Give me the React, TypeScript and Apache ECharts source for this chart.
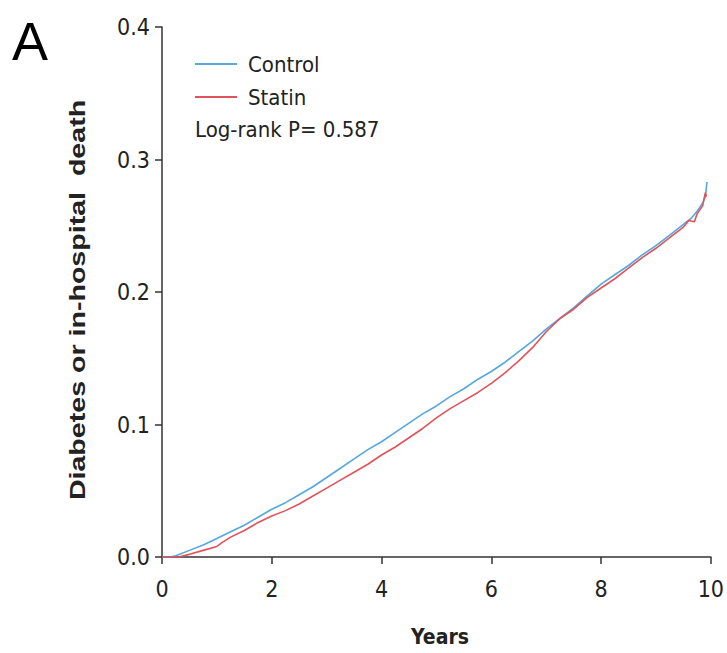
import React, { useEffect, useRef } from "react";
import * as echarts from "echarts";

const xTicks = [0, 2, 4, 6, 8, 10];
const yTicks = [0, 0.1, 0.2, 0.3, 0.4];

const controlYears = [0, 0.15, 0.25, 0.5, 0.75, 1.0, 1.25, 1.5, 1.75, 2.0, 2.25, 2.5, 2.75, 3.0, 3.25, 3.5, 3.75, 4.0, 4.25, 4.5, 4.75, 5.0, 5.25, 5.5, 5.75, 6.0, 6.25, 6.5, 6.75, 7.0, 7.25, 7.5, 7.75, 8.0, 8.25, 8.5, 8.75, 9.0, 9.25, 9.5, 9.65, 9.75, 9.85, 9.9, 9.93];
const controlValues = [0, 0, 0.001, 0.005, 0.009, 0.014, 0.019, 0.024, 0.030, 0.036, 0.041, 0.047, 0.053, 0.060, 0.067, 0.074, 0.081, 0.087, 0.094, 0.101, 0.108, 0.114, 0.121, 0.127, 0.134, 0.140, 0.147, 0.155, 0.163, 0.172, 0.180, 0.188, 0.197, 0.206, 0.213, 0.220, 0.228, 0.235, 0.243, 0.251, 0.256, 0.261, 0.267, 0.272, 0.283];

const statinYears = [0, 0.3, 0.5, 0.75, 1.0, 1.1, 1.25, 1.5, 1.75, 2.0, 2.25, 2.5, 2.75, 3.0, 3.25, 3.5, 3.75, 4.0, 4.25, 4.5, 4.75, 5.0, 5.25, 5.5, 5.75, 6.0, 6.25, 6.5, 6.75, 7.0, 7.25, 7.5, 7.75, 8.0, 8.25, 8.5, 8.75, 9.0, 9.25, 9.5, 9.6, 9.7, 9.75, 9.8, 9.85, 9.9, 9.92];
const statinValues = [0, 0, 0.002, 0.005, 0.008, 0.011, 0.015, 0.020, 0.026, 0.031, 0.035, 0.040, 0.046, 0.052, 0.058, 0.064, 0.070, 0.077, 0.083, 0.090, 0.097, 0.105, 0.112, 0.118, 0.124, 0.131, 0.139, 0.148, 0.158, 0.170, 0.180, 0.187, 0.196, 0.203, 0.210, 0.218, 0.226, 0.233, 0.241, 0.249, 0.254, 0.253, 0.259, 0.262, 0.265, 0.275, 0.272];

const seriesNames = ["Control", "Statin"];
const colors = ["#55a7dc", "#e2525a"];

const FONT = "'DejaVu Sans Condensed', 'Liberation Sans', sans-serif";

export default function App() {
  const ref = useRef<HTMLDivElement>(null);
  useEffect(() => {
    if (!ref.current) return;
    const chart = echarts.init(ref.current, undefined, { renderer: "svg" });
    const controlData = controlYears.map((x, i) => [x, controlValues[i]]);
    const statinData = statinYears.map((x, i) => [x, statinValues[i]]);
    chart.setOption({
      animation: false,
      backgroundColor: "#ffffff",
      grid: { left: 162, right: 14, top: 27, bottom: 96, containLabel: false },
      xAxis: {
        type: "value",
        min: xTicks[0],
        max: xTicks[xTicks.length - 1],
        interval: 2,
        axisLine: { show: true, onZero: false, lineStyle: { color: "#333", width: 1.5 } },
        axisTick: { show: true, length: 7, inside: false, lineStyle: { color: "#333", width: 1.5 } },
        axisLabel: { color: "#222", fontSize: 23, fontFamily: FONT, margin: 20 },
        splitLine: { show: false },
      },
      yAxis: {
        type: "value",
        min: yTicks[0],
        max: yTicks[yTicks.length - 1],
        interval: 0.1,
        axisLine: { show: true, lineStyle: { color: "#333", width: 1.5 } },
        axisTick: { show: true, length: 7, inside: false, lineStyle: { color: "#333", width: 1.5 } },
        axisLabel: {
          color: "#222",
          fontSize: 23,
          fontFamily: FONT,
          margin: 12,
          formatter: (v: number) => v.toFixed(1),
        },
        splitLine: { show: false },
      },
      legend: {
        orient: "vertical",
        left: 195,
        top: 53,
        padding: 0,
        itemGap: 11,
        itemWidth: 42,
        itemHeight: 2,
        icon: "rect",
        data: seriesNames,
        textStyle: { color: "#222", fontSize: 22, fontFamily: FONT, padding: [0, 0, 0, 6] },
      },
      graphic: [
        {
          type: "text",
          left: 12,
          top: 14,
          style: { text: "A", fontSize: 54, fontFamily: "'Liberation Sans', sans-serif", fill: "#000" },
        },
        {
          type: "text",
          x: 195,
          y: 129,
          style: {
            text: "Log-rank P= 0.587",
            fontSize: 22,
            fontFamily: FONT,
            fill: "#222",
            verticalAlign: "middle",
            align: "left",
          },
        },
        {
          type: "text",
          x: 440,
          y: 637,
          style: {
            text: "Years",
            fontSize: 21,
            fontWeight: "bold",
            fontFamily: FONT,
            fill: "#222",
            align: "center",
            verticalAlign: "middle",
          },
        },
        {
          type: "text",
          x: 77,
          y: 300,
          rotation: Math.PI / 2,
          scaleX: 1.3,
          style: {
            text: "Diabetes or in-hospital  death",
            fontSize: 22,
            fontWeight: "bold",
            fontFamily: "'Liberation Sans', Arial, sans-serif",
            fill: "#222",
            align: "center",
            verticalAlign: "middle",
          },
        },
      ],
      series: [
        {
          name: seriesNames[0],
          type: "line",
          data: controlData,
          showSymbol: false,
          color: colors[0],
          lineStyle: { color: colors[0], width: 1.6 },
        },
        {
          name: seriesNames[1],
          type: "line",
          data: statinData,
          showSymbol: false,
          color: colors[1],
          lineStyle: { color: colors[1], width: 1.6 },
        },
      ],
    });
    return () => chart.dispose();
  }, []);
  return <div ref={ref} style={{ position: "absolute", left: 0, top: 0, width: 727, height: 653 }} />;
}
